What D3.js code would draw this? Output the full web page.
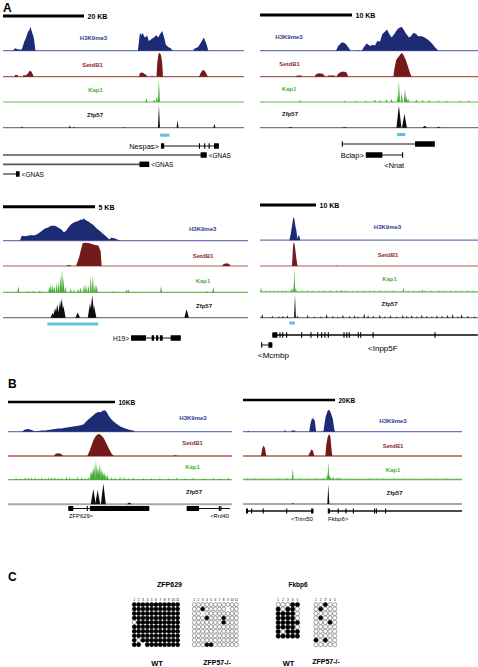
<!DOCTYPE html>
<html><head><meta charset="utf-8">
<script src="https://cdn.jsdelivr.net/npm/d3@7"></script>
<style>body{margin:0;background:#fff}svg{display:block}text{font-family:'Liberation Sans',Arial,Helvetica,sans-serif;-webkit-font-smoothing:antialiased}</style>
</head><body><svg id="chart" width="478" height="667"></svg>
<script>
// ---------------- DATA (positions in kb, signal 0-100) ----------------
const trackNames = ["H3K9me3","SetdB1","Kap1","Zfp57"];

// Panel A, top-left (Nespas / GNAS)
const a1_h3k9 = [[2.4,0],[3.0,10],[3.6,6],[4.4,4],[4.7,8],[5.2,35],[5.7,55],[6.2,80],[6.5,85],[6.8,100],[7.2,75],[7.5,60],[7.7,45],[8.0,0],[33.3,0],[33.8,73],[34.2,65],[34.5,75],[34.8,60],[35.1,55],[35.6,63],[36.0,40],[36.4,45],[36.7,50],[37.3,55],[37.8,65],[38.3,55],[38.8,70],[39.3,82],[39.8,55],[40.2,25],[40.8,15],[41.4,10],[41.9,0],[46.9,0],[47.2,8],[48.2,15],[49.1,40],[49.6,55],[50.3,25],[50.7,0]];
const a1_setdb1 = [[2.8,0],[3.0,7],[3.6,7],[3.8,0],[4.9,0],[5.0,6],[5.6,6],[6.0,10],[6.6,25],[7.0,22],[7.4,8],[7.6,0],[33.6,0],[33.8,15],[34.5,17],[35.0,10],[35.4,8],[35.6,0],[36.6,0],[36.8,6],[37.0,0],[37.9,0],[38.1,60],[38.4,95],[38.7,100],[39.0,90],[39.3,60],[39.5,0],[48.4,0],[48.8,15],[49.3,28],[49.8,25],[50.3,10],[50.6,0]];
const a1_kap1 = [[35.4,17],[37.3,10],[38.0,25],[38.5,93]];
const a1_zfp57 = [[4.7,5],[16.5,9],[17.5,4],[30.0,3],[38.5,95],[43.1,32],[52.2,18]];
const a1_cyan = [38.8,41.1];
const a1_genes = [
  {name:"Nespas>", start:39.0, end:53.3, exons:[[39.0,39.8],[48.5,48.5],[49.8,49.8],[50.9,50.9],[52.1,53.3]]},
  {name:"<GNAS", start:0, end:50.3, exons:[[48.8,50.3]]},
  {name:"<GNAS", start:0, end:36.1, exons:[[33.7,36.1]]},
  {name:"<GNAS", start:0, end:4.1, exons:[[3.2,4.1]]}
];

// Panel A, top-right (Nnat)
const a2_h3k9 = [[0.3,0],[0.36,3],[0.45,0],[8.26,0],[8.5,20],[8.9,35],[9.13,33],[9.4,25],[9.7,8],[9.86,0],[10.6,0],[10.7,3],[10.8,0],[11.05,0],[11.3,15],[11.6,30],[11.96,20],[12.25,25],[12.5,22],[12.75,40],[13.04,38],[13.3,70],[13.6,80],[13.8,88],[14.05,70],[14.3,55],[14.6,70],[14.86,85],[15.1,95],[15.4,100],[15.65,85],[15.9,70],[16.2,55],[16.4,60],[16.7,75],[16.96,70],[17.2,60],[17.6,60],[17.9,55],[18.3,45],[18.7,30],[19.0,15],[19.4,0]];
const a2_setdb1 = [[3.9,0],[4.0,5],[4.5,5],[4.6,0],[5.9,0],[6.1,10],[6.4,14],[6.8,12],[7.0,5],[7.1,0],[7.3,0],[7.4,5],[8.1,5],[8.2,0],[8.3,0],[8.5,12],[8.8,20],[9.1,22],[9.4,18],[9.6,0],[14.5,0],[14.6,30],[14.8,70],[15.1,85],[15.4,100],[15.6,90],[15.85,70],[16.1,40],[16.35,10],[16.5,0]];
const a2_kap1 = [[0.4,3],[4.35,8],[9.2,5],[10.4,4],[11.5,5],[12.5,10],[13.04,8],[13.75,10],[14.3,12],[15.0,30],[15.1,86],[15.4,40],[15.76,56],[15.9,25],[16.1,15],[17.0,10],[17.7,8],[18.4,8],[19.4,6],[20.3,5],[21.7,5],[22.7,6]];
const a2_zfp57 = [[3.3,3],[9.2,3],[15.1,93],[15.7,58],[17.9,8],[19.4,4]];
const a2_cyan = [14.9,15.8];
const a2_genes = [
  {name:"", start:8.95, end:19.0, exons:[[8.95,8.95],[16.85,19.0]]},
  {name:"Bclap>", start:11.5, end:15.5, exons:[[11.5,13.3],[15.5,15.5]]}
];
const a2_extraLabels = [{text:"<Nnat", kb:14.6}];

// Panel A, bottom-left (H19)
const a3_h3k9 = [[0.92,0],[1.02,20],[1.2,18],[1.47,22],[1.74,22],[1.92,30],[2.1,40],[2.28,50],[2.46,55],[2.55,60],[2.65,62],[2.83,62],[3.0,55],[3.19,45],[3.3,35],[3.42,40],[3.55,55],[3.73,70],[3.91,78],[4.09,82],[4.22,88],[4.3,86],[4.37,92],[4.51,85],[4.64,80],[4.77,72],[4.91,65],[5.09,50],[5.27,40],[5.45,28],[5.64,15],[5.78,5],[5.87,12],[6.05,10],[6.21,5],[6.36,0]];
const a3_setdb1 = [[3.45,0],[3.5,3],[3.68,3],[3.72,0],[3.97,0],[4.04,15],[4.15,40],[4.24,70],[4.33,95],[4.46,97],[4.64,96],[4.82,92],[5.0,88],[5.18,85],[5.31,60],[5.36,0],[11.9,0],[12.0,8],[12.15,11],[12.3,8],[12.35,0]];
const a3_kap1 = [[0.83,25],[1.38,5],[1.65,5],[2.0,8],[2.52,25],[2.6,35],[2.7,30],[2.79,25],[2.92,40],[3.03,45],[3.13,70],[3.21,97],[3.28,60],[3.39,25],[3.68,15],[3.86,12],[4.09,15],[4.22,20],[4.4,30],[4.51,35],[4.64,30],[4.77,65],[4.88,70],[5.0,35],[5.09,30],[6.0,5],[6.72,12],[6.81,12],[8.59,25],[11.07,5],[11.43,22]];
const a3_zfp57 = [[2.7,20],[2.83,40],[2.95,55],[3.1,70],[3.19,80],[3.28,50],[4.06,22],[4.73,60],[4.85,95],[4.95,50],[9.98,35]];
const a3_cyan = [2.41,5.18];
const a3_genes = [
  {name:"H19>", start:6.96, end:9.66, exons:[[6.96,7.77],[8.08,8.21],[8.32,8.44],[8.53,8.68],[9.11,9.66]]}
];

// Panel A, bottom-right (Inpp5F)
const a4_h3k9 = [[5.24,0],[5.48,25],[5.71,60],[5.95,95],[6.13,90],[6.31,60],[6.49,40],[6.67,5],[6.85,20],[7.02,18],[7.2,0]];
const a4_setdb1 = [[5.7,0],[5.8,40],[5.9,80],[6.0,98],[6.15,95],[6.3,70],[6.5,30],[6.7,0],[13.6,0],[13.7,4],[13.8,0]];
const a4_kap1 = [[0.2,17],[1.0,5],[1.8,6],[2.5,4],[3.2,6],[4.0,5],[4.6,7],[5.6,15],[5.9,18],[6.13,97],[6.4,20],[7.5,5],[8.5,8],[9.3,6],[10.5,5],[11.5,6],[12.6,8],[13.7,5],[14.5,10],[15.3,6],[16.5,5],[17.5,6],[18.5,5],[19.6,8],[20.5,5],[21.5,7],[22.5,5],[23.8,6],[25.6,17],[26.5,5],[27.5,6],[28.5,5],[29.0,12],[29.5,8],[30.5,5],[32.0,6],[33.0,5],[34.0,6],[35.0,5],[36.0,4],[37.0,7],[38.0,5]];
const a4_zfp57 = [[0.4,15],[2.2,8],[3.4,6],[4.1,8],[4.9,10],[6.25,97],[6.7,8],[8.5,12],[9.7,5],[10.9,6],[11.9,15],[13.0,8],[13.9,5],[14.8,12],[16.0,8],[16.9,10],[17.5,6],[18.6,18],[19.3,10],[20.2,8],[21.4,12],[22.3,6],[23.3,10],[24.4,6],[25.5,12],[26.2,8],[27.1,10],[28.0,6],[28.9,12],[29.8,8],[30.7,6],[31.6,10],[32.5,8],[33.5,12],[34.4,15],[35.3,6],[36.0,15],[37.1,8],[38.3,6]];
const a4_cyan = [5.24,6.25];
const a4_genes = [
  {name:"<Inpp5F", start:2.2, end:38.9, exons:[[2.2,3.1],[3.57,3.57],[4.05,4.05],[4.76,4.76],[7.44,7.44],[9.1,9.1],[10.3,10.3],[11.0,11.0],[11.6,11.6],[12.2,12.2],[15.0,15.0],[15.5,15.5],[15.95,15.95],[17.56,17.56],[17.98,17.98],[20.2,20.2],[31.25,31.25]]},
  {name:"<Mcmbp", start:0.3, end:2.2, exons:[[0.3,0.3],[1.5,2.2]]}
];

// Panel B, left (ZFP629)
const b1_h3k9 = [[1.28,0],[1.59,10],[1.9,12],[2.2,8],[2.5,2],[2.8,3],[3.15,6],[3.46,6],[3.77,8],[4.08,10],[4.4,12],[4.7,14],[5.0,15],[5.33,18],[5.64,20],[5.95,22],[6.26,25],[6.57,27],[6.9,30],[7.1,35],[7.29,45],[7.5,55],[7.73,65],[7.97,75],[8.22,85],[8.44,90],[8.66,88],[8.85,95],[9.07,98],[9.22,90],[9.38,75],[9.6,60],[9.84,48],[10.16,35],[10.47,25],[10.78,18],[11.1,12],[11.4,8],[11.7,5],[11.87,0]];
const b1_setdb1 = [[4.3,0],[4.45,10],[4.7,12],[4.95,10],[5.15,0],[7.41,0],[7.6,20],[7.79,45],[7.97,70],[8.16,88],[8.35,98],[8.53,100],[8.76,92],[8.97,80],[9.22,55],[9.47,30],[9.69,10],[9.9,0],[15.4,0],[15.6,3],[15.9,0]];
const b1_kap1 = [[0.75,10],[1.18,5],[1.59,12],[1.9,10],[2.21,10],[2.52,10],[2.84,8],[3.15,10],[3.46,8],[3.77,10],[4.08,12],[4.39,12],[4.7,8],[5.02,10],[5.48,15],[5.79,12],[6.1,8],[6.48,15],[6.88,12],[7.2,8],[7.5,12],[7.73,35],[7.8,40],[7.91,50],[8.0,55],[8.07,70],[8.22,94],[8.3,65],[8.38,60],[8.45,50],[8.53,75],[8.6,60],[8.69,55],[8.77,40],[8.85,45],[8.92,30],[9.0,35],[9.08,25],[9.16,20],[9.31,25],[9.69,12],[10.0,10],[10.47,15],[10.84,12],[11.25,8],[11.7,12],[12.65,8],[13.4,8],[14.2,10],[14.98,8],[15.76,10],[16.54,8],[17.32,10],[18.26,8],[19.2,10],[19.8,8],[20.6,10]];
const b1_zfp57 = [[7.97,70],[8.38,65],[8.91,95],[11.34,8]];
const b1_genes = [
  {name:"ZFP629>", start:5.64, end:13.2, exons:[[5.64,6.1],[7.41,7.41],[7.66,13.2]]},
  {name:"<Rnf40", start:16.7, end:20.75, exons:[[16.7,17.85],[19.75,19.75],[19.9,19.9]]}
];

// Panel B, right (Fkbp6)
const b2_h3k9 = [[1.0,0],[1.16,5],[1.3,0],[9.0,0],[9.13,12],[9.3,0],[10.5,0],[10.6,5],[11.3,5],[11.4,0],[14.4,0],[14.7,40],[14.99,60],[15.3,60],[15.6,50],[15.9,0],[17.0,0],[17.1,5],[17.2,0],[17.46,0],[17.75,40],[18.0,70],[18.4,95],[18.77,100],[19.1,85],[19.5,60],[19.86,10],[20.0,0]];
const b2_setdb1 = [[3.9,0],[4.2,35],[4.49,48],[4.78,35],[5.07,0],[14.2,0],[14.5,15],[14.86,30],[15.2,25],[15.5,0],[17.9,0],[18.1,50],[18.4,85],[18.7,100],[19.0,90],[19.2,40],[19.4,0]];
const b2_kap1 = [[0.94,5],[2.6,6],[4.4,5],[6.2,5],[7.7,6],[9.5,8],[10.8,50],[12.4,6],[14.2,5],[16.0,6],[17.5,8],[18.3,25],[18.55,80],[18.8,20],[19.1,10],[19.6,12],[20.5,10],[21.1,10],[22.5,5],[24.7,5],[27.6,8],[29.1,5],[30.5,5],[32.7,6],[34.9,5],[37.0,5],[39.9,6],[42.1,5],[44.3,6],[46.5,5]];
const b2_zfp57 = [[10.8,5],[18.55,87]];
const b2_genes = [
  {name:"<Trim50", start:0.65, end:15.3, exons:[[0.65,1.09],[1.88,1.88],[4.4,4.4],[9.5,9.5],[14.8,15.3]]},
  {name:"Fkbp6>", start:18.55, end:47.6, exons:[[18.55,18.55],[18.8,18.8],[20.7,20.7],[22.4,22.4],[24.0,24.0],[28.6,28.6],[29.0,29.0],[31.0,31.0]]}
];

// Panel C: bisulfite methylation (1 = methylated, 0 = unmethylated, - = missing)
const zfp629_wt = ["11111111111","11111111111","11111111111","11111111111","01111111111","11111111111","11111111111","11111111111","10111111111","11-11111111"];
const zfp629_ko = ["00000000000","00100000-00","00-00000000","00010001000","00000001000","00000000000","00000000000","00000000000","00000000000","00011000000"];
const fkbp6_wt = ["00011","10110","11110","11110","11111","11110","10111","11111"];
const fkbp6_ko = ["00100","01000","00000","01000","00010","00000","00000","00000","10100","00000"];
const cpg11 = ["1","2","3","4","5","6","7","8","9","10","11"];
const cpg5 = ["1","2","3","4","5"];

// ---------------- STYLE / LAYOUT ----------------
const TS = {
  H3K9me3:{fill:"#1d2b74", base:"#7176b8", label:"#2f3c90"},
  SetdB1:{fill:"#741a1b", base:"#ad5c54", label:"#8e2b27"},
  Kap1:{fill:"#47ad36", base:"#62bc50", label:"#4cae3e"},
  Zfp57:{fill:"#0d0d0d", base:"#8a8a8a", label:"#111"}
};
const svg = d3.select("#chart");

function panel(P){
  const x = d3.scaleLinear().domain([0,(P.x1-P.x0)/P.pxPerKb]).range([P.x0,P.x1]);
  svg.append("line").attr("x1",x(0)).attr("x2",x(P.barKb)).attr("y1",P.barY).attr("y2",P.barY)
    .attr("stroke","#000").attr("stroke-width",P.barW);
  svg.append("text").attr("x",x(P.barKb)+3.5).attr("y",P.barY+3).attr("font-size",P.barFs)
    .attr("font-weight","bold").text(P.barLabel);
  P.data.forEach((data,i)=>{
    const name = trackNames[i], st = TS[name], base = P.baselines[i];
    const y = d3.scaleLinear().domain([0,100]).range([base, base-P.trackH]);
    svg.append("line").attr("x1",P.x0).attr("x2",P.x1).attr("y1",base).attr("y2",base)
      .attr("stroke", i===3 ? P.zfpBase : st.base).attr("stroke-width", i===3 ? P.zfpBaseW : P.baseW);
    if (i<2){
      const area = d3.area().x(d=>x(d[0])).y0(base).y1(d=>y(d[1]));
      svg.append("path").datum(data).attr("d",area).attr("fill",st.fill);
    } else {
      const hw = P.spikeHW[i-2];
      svg.append("g").selectAll("path").data(data).enter().append("path")
        .attr("d",d=>`M${x(d[0])-hw},${base}L${x(d[0])},${y(d[1])}L${x(d[0])+hw},${base}Z`)
        .attr("fill",st.fill);
    }
    svg.append("text").attr("x",P.labelX[i]).attr("y",P.labelY[i]).attr("text-anchor","middle")
      .attr("font-size",6).attr("font-weight","bold").attr("fill",st.label).text(name);
  });
  if (P.cyan){
    svg.append("rect").attr("x",x(P.cyan[0])).attr("width",x(P.cyan[1])-x(P.cyan[0]))
      .attr("y",P.cyanY-1.5).attr("height",3).attr("fill","#5ec2da");
  }
  P.genes.forEach((g,j)=>{
    const L = P.geneLayout[j];
    svg.append("line").attr("x1",x(g.start)).attr("x2",x(g.end)).attr("y1",L.y).attr("y2",L.y)
      .attr("stroke",L.lc||"#111").attr("stroke-width",L.lw||1);
    g.exons.forEach(([s,e])=>{
      const w = Math.max(x(e)-x(s),1.1);
      svg.append("rect").attr("x", e>s ? x(s) : x(s)-0.55).attr("y",L.y-P.exonH/2)
        .attr("width",w).attr("height",P.exonH).attr("fill","#000");
    });
    if (g.name && L.side){
      const t = svg.append("text").attr("y",L.ty!==undefined?L.ty:L.y+2.5).attr("font-size",L.fs);
      if (L.side==="L") t.attr("x",x(g.start)-2).attr("text-anchor","end");
      else if (L.side==="R") t.attr("x",x(g.end)+2).attr("text-anchor","start");
      else t.attr("x",x(L.kb)).attr("text-anchor",L.anchor||"start");
      t.text(g.name);
    }
  });
  (P.extra||[]).forEach(e=>{
    svg.append("text").attr("x",x(e.kb)).attr("y",P.extraY).attr("text-anchor","middle")
      .attr("font-size",P.extraFs).text(e.text);
  });
}

const baseA = {trackH:24, baseW:1.2, zfpBase:"#7a7a7a", zfpBaseW:1.2, exonH:5.5, barW:3, barFs:7};
const baseB = {trackH:22, baseW:1.3, zfpBase:"#a8a8a8", zfpBaseW:2, exonH:5, barW:2.5, barFs:6.5};

panel(Object.assign({}, baseA, {x0:3, x1:244, pxPerKb:4.05, barKb:20, barLabel:"20 KB", barY:16,
  data:[a1_h3k9,a1_setdb1,a1_kap1,a1_zfp57], baselines:[50.7,76.7,102,127.7],
  labelX:[93.5,92.5,95.5,95], labelY:[40,67,92,117], spikeHW:[1,1],
  cyan:a1_cyan, cyanY:135.2, genes:a1_genes,
  geneLayout:[{y:146,side:"L",fs:7.5,lw:1},{y:155,side:"R",fs:6.5,lw:1.7,lc:"#555"},{y:164.3,side:"R",fs:6.5,lw:1.7,lc:"#555"},{y:174,side:"R",fs:6.5,lw:1}]}));

panel(Object.assign({}, baseA, {x0:260, x1:478, pxPerKb:9.2, barKb:10, barLabel:"10 KB", barY:15,
  data:[a2_h3k9,a2_setdb1,a2_kap1,a2_zfp57], baselines:[50.7,76.7,102,127.7],
  labelX:[289,289.5,289,290], labelY:[38.5,65.5,91,116], spikeHW:[1.1,2.5],
  cyan:a2_cyan, cyanY:134.5, genes:a2_genes,
  geneLayout:[{y:144,lw:1},{y:155,side:"L",fs:7.5,lw:1,ty:158}],
  extra:a2_extraLabels, extraY:167.5, extraFs:7.3}));

panel(Object.assign({}, baseA, {x0:3, x1:248, pxPerKb:18.4, barKb:5, barLabel:"5 KB", barY:206.7,
  data:[a3_h3k9,a3_setdb1,a3_kap1,a3_zfp57], baselines:[240.6,266,292.3,317.7],
  labelX:[202.7,203,203,204], labelY:[231,258.3,283.3,308.3], spikeHW:[1,2.3],
  cyan:a3_cyan, cyanY:324, genes:a3_genes,
  geneLayout:[{y:338,side:"L",fs:6.6,lw:1,ty:340.5}]}));

panel(Object.assign({}, baseA, {x0:260, x1:478, pxPerKb:5.6, barKb:10, barLabel:"10 KB", barY:205,
  data:[a4_h3k9,a4_setdb1,a4_kap1,a4_zfp57], baselines:[240.2,266,291.8,317.7],
  labelX:[387.5,388,389.5,389.5], labelY:[229.3,256.7,280.7,305.7], spikeHW:[0.8,0.9],
  cyan:a4_cyan, cyanY:323, genes:a4_genes,
  geneLayout:[{y:335,side:"K",kb:19.3,fs:8,lw:1.8,lc:"#444",ty:351},{y:345,side:"K",kb:-0.36,fs:8,lw:1,ty:357.5}]}));

panel(Object.assign({}, baseB, {x0:8, x1:232, pxPerKb:10.7, barKb:10, barLabel:"10KB", barY:402,
  data:[b1_h3k9,b1_setdb1,b1_kap1,b1_zfp57], baselines:[431.7,456,479.7,504.3],
  labelX:[193,192.5,192.5,194], labelY:[420,445,469.3,494], spikeHW:[0.9,2.5],
  genes:b1_genes,
  geneLayout:[{y:508.5,side:"K",kb:5.7,fs:5.8,lw:1,ty:517.5},{y:508.5,side:"K",kb:18.9,fs:5.8,lw:1,ty:517.5}]}));

panel(Object.assign({}, baseB, {x0:243, x1:462, pxPerKb:4.6, barKb:20, barLabel:"20KB", barY:400,
  data:[b2_h3k9,b2_setdb1,b2_kap1,b2_zfp57], baselines:[431.7,456,479.5,504],
  labelX:[393,393,393,394.5], labelY:[423.3,448.3,471.7,495], spikeHW:[0.9,1],
  genes:b2_genes,
  geneLayout:[{y:511,side:"K",kb:15.2,anchor:"end",fs:6,lw:1.3,ty:520.5},{y:511,side:"K",kb:18.5,fs:6,lw:1.3,ty:520.5}]}));

// Panel letters
[["A",3,11.5],["B",8,387.5],["C",8,581]].forEach(([t,px,py])=>{
  svg.append("text").attr("x",px).attr("y",py).attr("font-size",12).attr("font-weight","bold").text(t);
});

// ---------------- Panel C ----------------
function grid(rows, labels, G){
  const g = svg.append("g");
  const cx = d3.scaleLinear().domain([0,1]).range([G.x, G.x+G.dx]);
  const cy = d3.scaleLinear().domain([0,1]).range([G.y, G.y+G.dy]);
  g.selectAll("text").data(labels).enter().append("text")
    .attr("x",(d,i)=>cx(i)).attr("y",G.y-3.6).attr("text-anchor","middle").attr("font-size",3.2).text(d=>d);
  rows.forEach((r,ri)=>{
    r.split("").forEach((c,ci)=>{
      if (c==="-") return;
      g.append("circle").attr("cx",cx(ci)).attr("cy",cy(ri)).attr("r",G.r)
        .attr("fill", c==="1" ? "#000" : "#fff").attr("stroke", c==="1" ? "#000" : "#666").attr("stroke-width",0.6);
    });
  });
}
grid(zfp629_wt, cpg11, {x:134.3, y:604.6, dx:4.33, dy:4.45, r:2.05});
grid(zfp629_ko, cpg11, {x:194.3, y:604.6, dx:4.2, dy:4.45, r:2.0});
grid(fkbp6_wt, cpg5, {x:278.2, y:604.6, dx:4.8, dy:4.5, r:2.2});
grid(fkbp6_ko, cpg5, {x:316.0, y:604.6, dx:4.7, dy:4.45, r:2.1});

[["ZFP629",169.5,587.3,7],["Fkbp6",298,587,6.5],["WT",157,666,7.5],["ZFP57-/-",217,665,7],["WT",288.5,665.5,7.5],["ZFP57-/-",326,664,7]]
  .forEach(([t,px,py,fs])=>{
    svg.append("text").attr("x",px).attr("y",py).attr("text-anchor","middle").attr("font-size",fs)
      .attr("font-weight","bold").text(t);
  });
</script></body></html>
